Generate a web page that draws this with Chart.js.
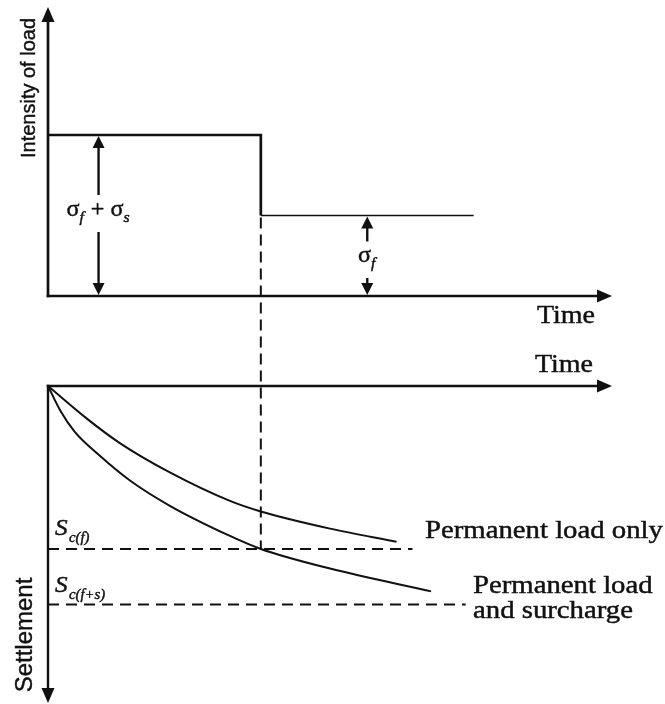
<!DOCTYPE html>
<html>
<head>
<meta charset="utf-8">
<title>Preloading with surcharge</title>
<style>
  html, body { margin: 0; padding: 0; background: #ffffff; }
  #wrap { position: relative; width: 665px; height: 704px; }
  canvas { display: block; }
</style>
<script src="https://cdn.jsdelivr.net/npm/chart.js@4.4.1/dist/chart.umd.min.js"></script>
</head>
<body>
<div id="wrap"><canvas id="diagram" width="665" height="704"></canvas></div>
<script>
// ---- values -------------------------------------------------------------
// Time axis (arbitrary units); the surcharge is taken off at t = 4
const timeMax = 10.6;
const removalTime = 4;

// Intensity of load, with σf + σs = 1
const loadTimes  = [0, 4, 4, 8];
const loadValues = [1, 1, 0.5, 0.5];

// Settlement under the permanent load only
const permTimes  = [0, 0.73, 1.35, 2.29, 3.42, 4, 5.3, 6.55];
const permSettle = [0, 0.2, 0.35, 0.53, 0.705, 0.77, 0.875, 0.955];

// Settlement under the permanent load plus surcharge
const surTimes  = [0, 0.23, 0.5, 0.98, 1.54, 2.29, 3.42, 4, 5.3, 7.2];
const surSettle = [0, 0.15, 0.28, 0.43, 0.58, 0.735, 0.92, 1.0, 1.12, 1.26];

// Final consolidation settlements Sc(f) and Sc(f+s), and how far their guide lines run
const finalSettle  = [1.0, 1.34];
const finalLineEnd = [6.85, 7.85];

// Where the two load arrows stand on the time axis
const totalArrowTime = 0.95;
const permArrowTime  = 6;

// ---- frame --------------------------------------------------------------
const W = 665, H = 704;
const AREA = { left: 48, right: 612, top: 7, bottom: 703 };
// both panels share the full plot height; each value axis is placed by its zero line
const LOAD_ZERO = 296, LOAD_UNIT = 161;     // px of the load axis, px per unit load
const SET_ZERO  = 386, SET_UNIT  = 163;     // px of the time axis below, px per unit settlement

const loadRange = {
  max: (LOAD_ZERO - AREA.top) / LOAD_UNIT,
  min: -(AREA.bottom - LOAD_ZERO) / LOAD_UNIT
};
const settleRange = {            // reversed axis: settlement grows downwards
  min: -(SET_ZERO - AREA.top) / SET_UNIT,
  max: (AREA.bottom - SET_ZERO) / SET_UNIT
};

const ink = '#111111';
const serif = '"Liberation Serif", "Times New Roman", serif';
const sans  = '"Liberation Sans", Arial, sans-serif';

const pts = (xs, ys) => xs.map((x, i) => ({ x, y: ys[i] }));

// ---- drawing helpers ----------------------------------------------------
function seg(ctx, x1, y1, x2, y2, w, dash) {
  ctx.save();
  ctx.lineWidth = w;
  ctx.lineCap = 'butt';
  ctx.setLineDash(dash || []);
  ctx.beginPath();
  ctx.moveTo(x1, y1);
  ctx.lineTo(x2, y2);
  ctx.stroke();
  ctx.restore();
}

function arrowHead(ctx, x, y, dir, len, half) {
  ctx.beginPath();
  if (dir === 'up') {
    ctx.moveTo(x, y); ctx.lineTo(x - half, y + len); ctx.lineTo(x + half, y + len);
  } else if (dir === 'down') {
    ctx.moveTo(x, y); ctx.lineTo(x - half, y - len); ctx.lineTo(x + half, y - len);
  } else {
    ctx.moveTo(x, y); ctx.lineTo(x - len, y - half); ctx.lineTo(x - len, y + half);
  }
  ctx.closePath();
  ctx.fill();
}

// text with a hairline outline so the letters carry the weight of printed type
function text(ctx, str, x, y, font, align, sx) {
  ctx.save();
  ctx.font = font;
  ctx.textAlign = align || 'left';
  ctx.textBaseline = 'alphabetic';
  ctx.translate(x, y);
  ctx.scale(sx || 1, 1);
  ctx.lineWidth = 0.45;
  ctx.fillText(str, 0, 0);
  ctx.strokeText(str, 0, 0);
  ctx.restore();
}

function rotatedText(ctx, str, cy, baseX, font) {
  ctx.save();
  ctx.font = font;
  ctx.textAlign = 'center';
  ctx.textBaseline = 'alphabetic';
  ctx.translate(baseX, cy);
  ctx.rotate(-Math.PI / 2);
  ctx.lineWidth = 0.4;
  ctx.fillText(str, 0, 0);
  ctx.strokeText(str, 0, 0);
  ctx.restore();
}

// a row of symbols with italic subscripts, centred on cx
function symbolRow(ctx, parts, cx, base, size, subSize, sx) {
  const main = `${size}px ${serif}`;
  const sub = `italic ${subSize}px ${serif}`;
  let total = 0;
  const widths = parts.map(p => {
    ctx.font = main; let w = ctx.measureText(p.t).width;
    if (p.sub) { ctx.font = sub; w += ctx.measureText(p.sub).width + 1; }
    total += w;
    return w;
  });
  total *= sx;
  let x = cx - total / 2;
  parts.forEach((p, i) => {
    ctx.font = main;
    const mw = ctx.measureText(p.t).width * sx;
    text(ctx, p.t, x, base, main, 'left', sx);
    if (p.sub) text(ctx, p.sub, x + mw, base + subSize * 0.4, sub, 'left', sx);
    x += widths[i] * sx;
  });
}

function sLabel(ctx, sub, x, base) {
  text(ctx, 'S', x, base, `italic 24px ${serif}`, 'left', 1.05);
  text(ctx, sub, x + 14, base + 7, `italic 14px ${serif}`, 'left', 1.05);
}

// ---- axes, arrows and annotations ---------------------------------------
const diagram = {
  id: 'diagram',
  afterDatasetsDraw(chart) {
    const { ctx, chartArea: a, scales: { x, load, settle } } = chart;
    const x0 = x.getPixelForValue(0);
    const xEnd = x.getPixelForValue(timeMax);
    const yL0 = load.getPixelForValue(0);
    const yS0 = settle.getPixelForValue(0);

    ctx.save();
    ctx.fillStyle = ink;
    ctx.strokeStyle = ink;

    // load panel axes
    seg(ctx, x0, yL0 + 1.3, x0, a.top + 12, 2.7);
    arrowHead(ctx, x0, a.top, 'up', 15, 6.5);
    seg(ctx, x0 - 1.3, yL0, xEnd - 12, yL0, 2.6);
    arrowHead(ctx, xEnd, yL0, 'right', 15, 6.5);

    // settlement panel axes
    seg(ctx, x0 - 1.3, yS0, xEnd - 12, yS0, 2.4);
    arrowHead(ctx, xEnd, yS0, 'right', 15, 6.5);
    seg(ctx, x0, yS0 - 1.2, x0, a.bottom - 12, 2.4);
    arrowHead(ctx, x0, a.bottom, 'down', 15, 6.5);

    // surcharge removal, carried down to the settlement curve
    const xr = x.getPixelForValue(removalTime);
    seg(ctx, xr, load.getPixelForValue(loadValues[2]) + 2, xr,
        settle.getPixelForValue(finalSettle[0]), 2, [11, 6]);

    // σf + σs arrow
    const xa = x.getPixelForValue(totalArrowTime);
    const yTop = load.getPixelForValue(loadValues[0]);
    seg(ctx, xa, yTop + 10, xa, 195, 2.4);
    seg(ctx, xa, 232, xa, yL0 - 10, 2.4);
    arrowHead(ctx, xa, yTop + 1, 'up', 12, 6);
    arrowHead(ctx, xa, yL0 - 1, 'down', 12, 6);
    symbolRow(ctx, [{ t: 'σ', sub: 'f' }, { t: ' + ' }, { t: 'σ', sub: 's' }],
              xa, 216, 23, 15, 1.05);

    // σf arrow
    const xb = x.getPixelForValue(permArrowTime);
    const yLow = load.getPixelForValue(loadValues[2]);
    seg(ctx, xb, yLow + 10, xb, yLow + 26, 2.4);
    seg(ctx, xb, 278, xb, yL0 - 10, 2.4);
    arrowHead(ctx, xb, yLow + 1, 'up', 12, 6);
    arrowHead(ctx, xb, yL0 - 1, 'down', 12, 6);
    symbolRow(ctx, [{ t: 'σ', sub: 'f' }], xb, 262, 23, 15, 1.05);

    // axis titles
    rotatedText(ctx, 'Intensity of load', 88, 35, `20px ${sans}`);
    rotatedText(ctx, 'Settlement', 635, 32, `24px ${sans}`);
    text(ctx, 'Time', 595, 323, `25px ${serif}`, 'right', 1.12);
    text(ctx, 'Time', 593, 372, `25px ${serif}`, 'right', 1.12);

    // curve names
    text(ctx, 'Permanent load only', 425, 538, `25px ${serif}`, 'left', 1.15);
    text(ctx, 'Permanent load', 473, 593, `25px ${serif}`, 'left', 1.15);
    text(ctx, 'and surcharge', 473, 618, `25px ${serif}`, 'left', 1.15);

    // final settlement marks
    sLabel(ctx, 'c(f)', 55, 535);
    sLabel(ctx, 'c(f+s)', 55, 592);

    ctx.restore();
  }
};

// ---- chart --------------------------------------------------------------
new Chart(document.getElementById('diagram'), {
  type: 'line',
  data: {
    datasets: [
      {
        label: 'Intensity of load',
        yAxisID: 'load',
        data: pts(loadTimes, loadValues),
        borderColor: ink,
        borderWidth: 2.6,
        segment: { borderWidth: c => (c.p0DataIndex >= 2 ? 1.7 : 2.7) },
        pointRadius: 0,
        tension: 0
      },
      {
        label: 'Permanent load only',
        yAxisID: 'settle',
        data: pts(permTimes, permSettle),
        borderColor: ink,
        borderWidth: 2,
        pointRadius: 0,
        cubicInterpolationMode: 'monotone'
      },
      {
        label: 'Permanent load and surcharge',
        yAxisID: 'settle',
        data: pts(surTimes, surSettle),
        borderColor: ink,
        borderWidth: 2,
        pointRadius: 0,
        cubicInterpolationMode: 'monotone'
      },
      {
        label: 'Sc(f)',
        yAxisID: 'settle',
        data: [{ x: 0, y: finalSettle[0] }, { x: finalLineEnd[0], y: finalSettle[0] }],
        borderColor: ink,
        borderWidth: 2,
        borderDash: [11, 7],
        pointRadius: 0
      },
      {
        label: 'Sc(f+s)',
        yAxisID: 'settle',
        data: [{ x: 0, y: finalSettle[1] }, { x: finalLineEnd[1], y: finalSettle[1] }],
        borderColor: ink,
        borderWidth: 2,
        borderDash: [11, 7],
        pointRadius: 0
      }
    ]
  },
  options: {
    responsive: false,
    animation: false,
    events: [],
    layout: {
      padding: { left: AREA.left, right: W - AREA.right, top: AREA.top, bottom: H - AREA.bottom }
    },
    plugins: { legend: { display: false }, tooltip: { enabled: false } },
    scales: {
      x: { type: 'linear', min: 0, max: timeMax, display: false },
      load: { type: 'linear', position: 'left', min: loadRange.min, max: loadRange.max, display: false },
      settle: { type: 'linear', position: 'left', reverse: true,
                min: settleRange.min, max: settleRange.max, display: false }
    }
  },
  plugins: [diagram]
});
</script>
</body>
</html>
